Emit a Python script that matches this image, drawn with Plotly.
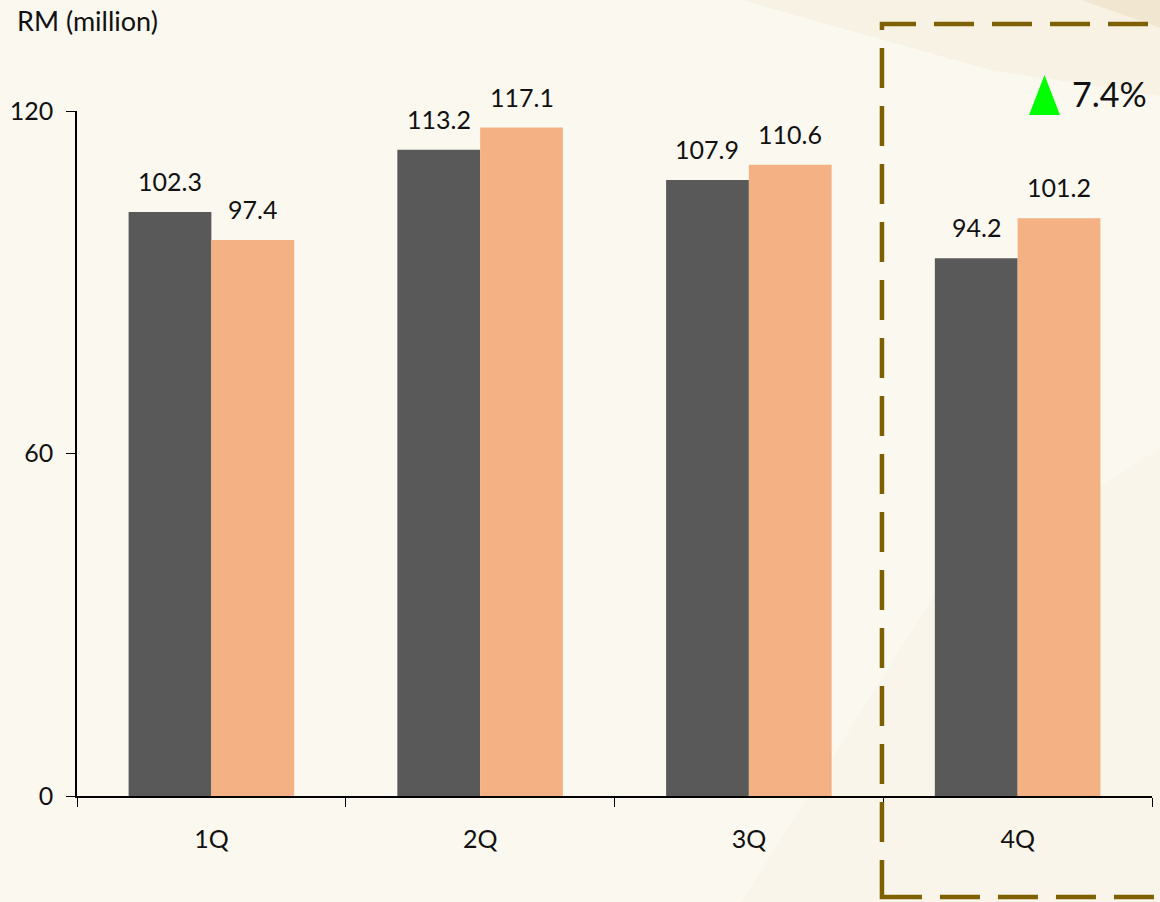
import plotly.graph_objects as go

categories = ["1Q", "2Q", "3Q", "4Q"]
series_a = [102.3, 113.2, 107.9, 94.2]
series_b = [97.4, 117.1, 110.6, 101.2]
y_ticks = [0, 60, 120]
growth_label = "7.4%"
y_title = "RM (million)"

FONT = "Lato, 'Open Sans', sans-serif"
TXT = "#111111"

fig = go.Figure()
fig.add_trace(go.Bar(x=categories, y=series_a, marker=dict(color="#595959", line=dict(width=0)),
                     showlegend=False, hoverinfo="y"))
fig.add_trace(go.Bar(x=categories, y=series_b, marker=dict(color="#F4B183", line=dict(width=0)),
                     showlegend=False, hoverinfo="y"))

annotations = []
for cat, va, vb in zip(categories, series_a, series_b):
    for v, xs in ((va, -41.5), (vb, 41.5)):
        annotations.append(dict(
            x=cat, y=v, xref="x", yref="y", xshift=xs, yshift=14,
            text=f"{v:.1f}", showarrow=False, xanchor="center", yanchor="bottom",
            font=dict(size=25, color=TXT, family=FONT)))

annotations += [
    dict(text=y_title, xref="paper", yref="paper", x=-0.058, y=1.132,
         xanchor="left", yanchor="middle", showarrow=False,
         font=dict(size=27, color=TXT, family=FONT)),
    dict(text=growth_label, xref="paper", yref="paper", x=0.9237, y=1.025,
         xanchor="left", yanchor="middle", showarrow=False,
         font=dict(size=34, color=TXT, family=FONT)),
]

shapes = [
    # subtle background texture
    dict(type="path", xref="paper", yref="paper",
         path="M 0.6 1.17 L 1.1 1.17 L 1.1 1.0 L 0.85 1.06 Z",
         fillcolor="rgba(238,222,190,0.25)", line=dict(width=0), layer="below"),
    dict(type="path", xref="paper", yref="paper",
         path="M 0.92 1.17 L 1.1 1.17 L 1.1 1.07 Z",
         fillcolor="rgba(230,210,170,0.35)", line=dict(width=0), layer="below"),
    dict(type="path", xref="paper", yref="paper",
         path="M 0.6 -0.2 L 1.1 -0.2 L 1.1 0.6 L 0.8 0.3 Z",
         fillcolor="rgba(240,228,200,0.15)", line=dict(width=0), layer="below"),
    # dashed highlight box
    dict(type="rect", xref="paper", yref="paper",
         x0=0.7488, x1=1.06, y0=-0.1474, y1=1.127,
         line=dict(color="#7F6000", width=4.5, dash="40px,18px"),
         fillcolor="rgba(0,0,0,0)", layer="above"),
    # green up triangle
    dict(type="path", xref="paper", yref="paper",
         path="M 0.8856 0.994 L 0.9144 0.994 L 0.9 1.0526 Z",
         fillcolor="#00FF00", line=dict(width=0)),
]

fig.update_layout(
    width=1160, height=902,
    margin=dict(l=77, r=8, t=111, b=106),
    paper_bgcolor="#FBF8F0", plot_bgcolor="rgba(0,0,0,0)",
    barmode="group", bargap=0.384, bargroupgap=0,
    shapes=shapes, annotations=annotations,
    xaxis=dict(showline=True, linecolor="#000000", linewidth=1.5,
               ticks="outside", tickson="boundaries", ticklen=9, tickcolor="#000000",
               ticklabelstandoff=20,
               tickfont=dict(size=25, color=TXT, family=FONT),
               showgrid=False, zeroline=False),
    yaxis=dict(range=[0, 120], tickvals=y_ticks, showline=True, linecolor="#000000",
               linewidth=1.5, ticks="outside", ticklen=9, tickcolor="#000000",
               ticklabelstandoff=8,
               tickfont=dict(size=25, color=TXT, family=FONT),
               showgrid=False, zeroline=False),
)

fig.write_html("out.html")
